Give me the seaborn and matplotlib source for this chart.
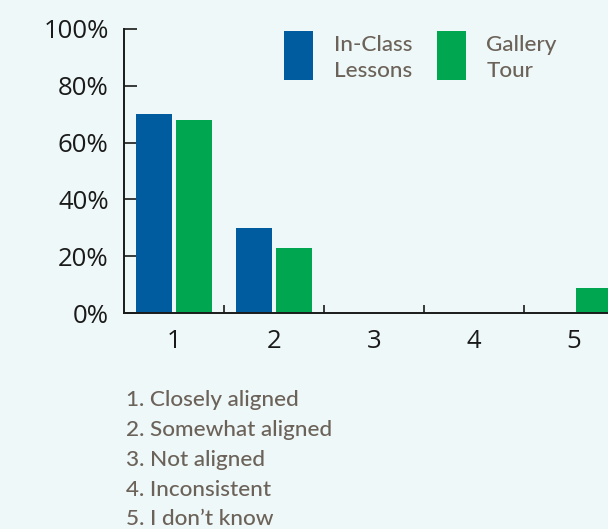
import matplotlib
matplotlib.use("Agg")
import matplotlib.pyplot as plt
import matplotlib.transforms as mtransforms
import seaborn as sns
import pandas as pd
from matplotlib.patches import Patch
from matplotlib.ticker import FixedLocator

# ---- data ----
categories = ["1", "2", "3", "4", "5"]
in_class = [70, 30, 0, 0, 0]
gallery = [68, 23, 0, 0, 9]
series_names = ["In-Class\nLessons", "Gallery\nTour"]
y_ticks = [0, 20, 40, 60, 80, 100]
y_tick_labels = ["0%", "20%", "40%", "60%", "80%", "100%"]
category_notes = [
    "1. Closely aligned",
    "2. Somewhat aligned",
    "3. Not aligned",
    "4. Inconsistent",
    "5. I don\u2019t know",
]

BLUE = "#005c9e"
GREEN = "#00a650"
BG = "#eff8f8"
TEXT = "#6b6259"
AX = "#1a1a1a"
LABEL_FONT = ["Lato", "DejaVu Sans"]

df = pd.DataFrame({
    "category": categories * 2,
    "value": in_class + gallery,
    "series": [series_names[0]] * len(categories) + [series_names[1]] * len(categories),
})

sns.set_theme(style="white")
plt.rcParams["font.family"] = ["Open Sans", "DejaVu Sans"]

W, H = 608, 529
fig = plt.figure(figsize=(W / 100, H / 100), dpi=100, facecolor=BG)
ax = fig.add_axes([124 / W, (H - 313.3) / H, 500 / W, 284.6 / H])
ax.set_facecolor(BG)

sns.barplot(
    data=df, x="category", y="value", hue="series",
    order=categories, hue_order=series_names,
    palette=[BLUE, GREEN], width=0.8, gap=0.1,
    linewidth=0, saturation=1, ax=ax, legend=False,
)

ax.set_xlim(-0.5, len(categories) - 0.5)
ax.set_ylim(0, 100)
ax.set_xlabel("")
ax.set_ylabel("")

for s in ["top", "right"]:
    ax.spines[s].set_visible(False)
for s in ["left", "bottom"]:
    ax.spines[s].set_color(AX)
    ax.spines[s].set_linewidth(1.4)

ax.set_yticks(y_ticks)
ax.set_yticklabels(y_tick_labels)
ax.tick_params(axis="y", direction="in", length=9, width=1.2, color=AX,
               labelsize=18.5, labelcolor=AX, pad=11, left=True)
ax.tick_params(axis="x", which="major", length=0, labelsize=18.5,
               labelcolor=AX, pad=11, bottom=True)
ax.xaxis.set_minor_locator(FixedLocator([0.5, 1.5, 2.5, 3.5]))
ax.tick_params(axis="x", which="minor", direction="in", length=5.5,
               width=1.2, color=AX, bottom=True)

handles = [Patch(facecolor=BLUE, edgecolor="none"),
           Patch(facecolor=GREEN, edgecolor="none")]
leg = fig.legend(
    handles, series_names, loc="upper left",
    bbox_to_anchor=(284 / W, 1 - 31 / H), ncol=2, frameon=False,
    prop={"family": LABEL_FONT, "size": 16.2, "weight": "medium"},
    handlelength=1.3, handleheight=2.95,
    handletextpad=0.9, columnspacing=1.1, borderaxespad=0,
    borderpad=0, labelspacing=0,
)
shift = mtransforms.ScaledTranslation(0, -4 / 100, fig.dpi_scale_trans)
for t in leg.get_texts():
    t.set_color(TEXT)
    t.set_linespacing(1.36)
    t.set_transform(t.get_transform() + shift)

baselines = [406, 436, 466, 496, 525]
for note, yb in zip(category_notes, baselines):
    fig.text(126 / W, 1 - yb / H, note, fontsize=16.2, fontweight="medium",
             family=LABEL_FONT, color=TEXT, ha="left", va="baseline")

fig.savefig("out.png", dpi=100, facecolor=BG)
